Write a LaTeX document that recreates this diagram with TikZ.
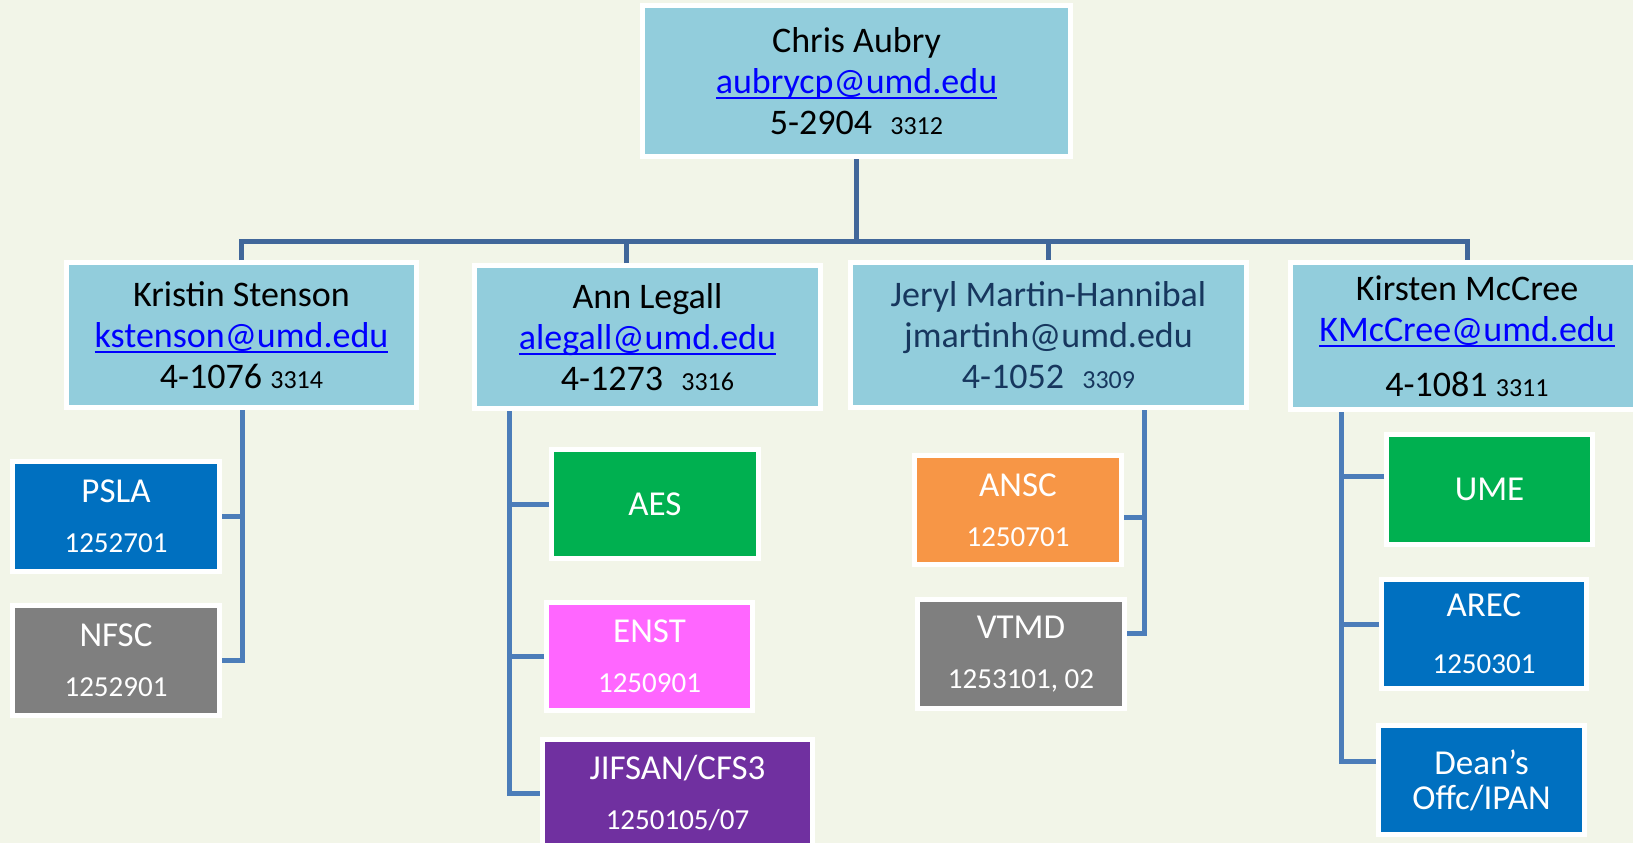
\documentclass[tikz,border=0pt]{standalone}
\usepackage{fontspec}
\setmainfont{Carlito}
\definecolor{bgc}{HTML}{F2F5E8}
\definecolor{lblue}{HTML}{92CDDC}
\definecolor{linkblue}{HTML}{0000FF}
\definecolor{navy}{HTML}{17375E}
\definecolor{topline}{HTML}{41679A}
\definecolor{subline}{HTML}{4C7DB9}
\definecolor{cblue}{HTML}{0070C0}
\definecolor{cgray}{HTML}{7F7F7F}
\definecolor{cgreen}{HTML}{00B050}
\definecolor{cpink}{HTML}{FF66FF}
\definecolor{cpurple}{HTML}{7030A0}
\definecolor{corange}{HTML}{F79646}
\newcommand\mylink[1]{\setbox0\hbox{\textcolor{linkblue}{#1}}\rlap{\textcolor{linkblue}{\rule[-6pt]{\wd0}{2pt}}}\box0}
\newcommand\smallnum[1]{{\fontsize{26}{26}\selectfont #1}}
\newcommand\codenum[1]{{\fontsize{29}{50}\selectfont #1}}
\tikzset{
  pbox/.style={draw=white, line width=5pt, fill=lblue, align=center, inner sep=0pt,
    font=\fontsize{36}{41}\selectfont},
  cbox/.style={draw=white, line width=5pt, align=center, inner sep=0pt, text=white,
    font=\fontsize{35}{50}\selectfont},
  tconn/.style={draw=topline, line width=5pt},
  sconn/.style={draw=subline, line width=5pt},
}
\begin{document}
\begin{tikzpicture}[x=1pt,y=-1pt]
\fill[bgc] (0,0) rectangle (1633,843);
\useasboundingbox (0,0) rectangle (1633,843);

% parent boxes
\node[pbox, minimum width=428pt, minimum height=151pt] (top) at (856.5,81)
  {Chris Aubry\\ \mylink{aubrycp@umd.edu}\\ 5-2904\hspace{10pt} \smallnum{3312}};
\node[pbox, minimum width=350pt, minimum height=145pt] (kristin) at (241.5,335)
  {Kristin Stenson\\ \mylink{kstenson@umd.edu}\\ 4-1076 \smallnum{3314}};
\node[pbox, minimum width=346pt, minimum height=143pt] (ann) at (647.5,337)
  {Ann Legall\\ \mylink{alegall@umd.edu}\\ 4-1273\hspace{10pt} \smallnum{3316}};
\node[pbox, text=navy, minimum width=396pt, minimum height=145pt] (jeryl) at (1048.5,335)
  {Jeryl Martin-Hannibal\\ jmartinh@umd.edu\\ 4-1052\hspace{10pt} \smallnum{3309}};
\node[pbox, minimum width=353pt, minimum height=147pt] (kirsten) at (1467,336)
  {Kirsten McCree\\ \mylink{KMcCree@umd.edu}\\[14pt] 4-1081 \smallnum{3311}};

% child boxes
\node[cbox, fill=cblue, minimum width=207pt, minimum height=110pt] (psla) at (116,516.5)
  {PSLA\\ \codenum{1252701}};
\node[cbox, fill=cgray, minimum width=207pt, minimum height=110pt] (nfsc) at (116,660.5)
  {NFSC\\ \codenum{1252901}};
\node[cbox, fill=cgreen, minimum width=207pt, minimum height=109pt] (aes) at (655,504)
  {AES};
\node[cbox, fill=cpink, minimum width=206pt, minimum height=108pt] (enst) at (649.5,656.5)
  {ENST\\ \codenum{1250901}};
\node[cbox, fill=cpurple, minimum width=270pt, minimum height=107pt] (jifsan) at (677.5,793)
  {JIFSAN/CFS3\\ \codenum{1250105/07}};
\node[cbox, fill=corange, minimum width=207pt, minimum height=109pt] (ansc) at (1018,510)
  {ANSC\\ \codenum{1250701}};
\node[cbox, fill=cgray, minimum width=207pt, minimum height=109pt] (vtmd) at (1021,654)
  {VTMD\\ \codenum{1253101, 02}};
\node[cbox, fill=cgreen, minimum width=206pt, minimum height=110pt] (ume) at (1489.5,489.5)
  {UME};
\node[cbox, fill=cblue, minimum width=205pt, minimum height=109pt] (arec) at (1484,634)
  {AREC\\[7pt] \codenum{1250301}};
\node[cbox, fill=cblue, minimum width=206pt, minimum height=109pt, font=\fontsize{35}{35}\selectfont] (dean) at (1481.5,780)
  {Dean’s\\ Offc/IPAN};

% top level connectors
\coordinate (bar) at (856,241);
\draw[tconn] (top.south) -- (top.south |- bar);
\draw[tconn] (kristin.north) -- (kristin.north |- bar) -- (kirsten.north |- bar) -- (kirsten.north);
\draw[tconn] ([xshift=-21.5pt]ann.north) -- ([xshift=-21.5pt]ann.north |- bar);
\draw[tconn] (jeryl.north) -- (jeryl.north |- bar);

% Kristin's units
\coordinate (kv) at ([xshift=0.5pt]kristin.south);
\draw[sconn] (kv) |- (nfsc.east);
\draw[sconn] (psla.east) -- (psla.east -| kv);

% Ann's units
\coordinate (av) at ([xshift=-138.5pt]ann.south);
\draw[sconn] (av) |- (jifsan.west);
\draw[sconn] (aes.west) -- (aes.west -| av);
\draw[sconn] (enst.west) -- (enst.west -| av);

% Jeryl's units
\coordinate (jv) at ([xshift=95.5pt]jeryl.south);
\draw[sconn] (jv) |- ([yshift=21pt]vtmd.east);
\draw[sconn] ([yshift=-7pt]ansc.east) -- ([yshift=-7pt]ansc.east -| jv);

% Kirsten's units
\coordinate (kmv) at ([xshift=-126pt]kirsten.south);
\draw[sconn] (kmv) |- ([yshift=19pt]dean.west);
\draw[sconn] ([yshift=13.5pt]ume.west) -- ([yshift=13.5pt]ume.west -| kmv);
\draw[sconn] ([yshift=10pt]arec.west) -- ([yshift=10pt]arec.west -| kmv);
\end{tikzpicture}
\end{document}
